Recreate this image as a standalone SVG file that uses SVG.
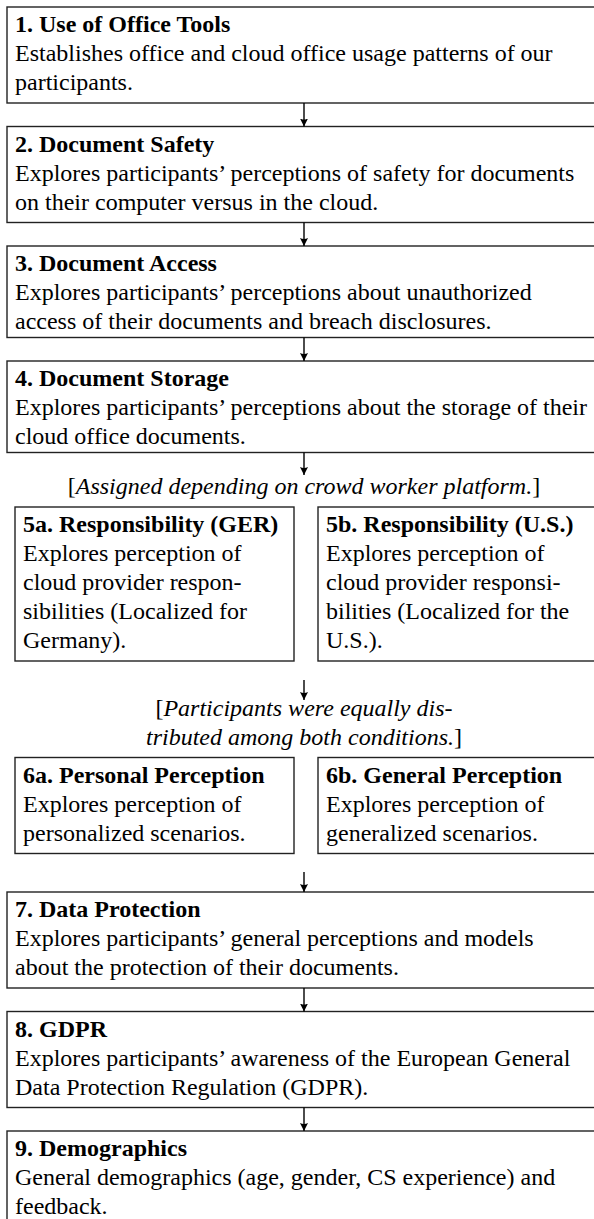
<svg xmlns="http://www.w3.org/2000/svg" width="594" height="1219" viewBox="0 0 594 1219">
<defs>
<marker id="ah" markerUnits="userSpaceOnUse" markerWidth="10" markerHeight="10" refX="8" refY="4" orient="auto">
<path d="M0,0 L8,4 L0,8 Q2,4 0,0 z" fill="#000"/>
</marker>
<style>
.box{fill:#fff;stroke:#222;stroke-width:1.4}
.t{font-family:"Liberation Serif","Times New Roman",serif;font-size:24px;fill:#000}
.b{font-weight:bold}
.i{font-style:italic}
#connectors line{stroke:#000;stroke-width:1.4;marker-end:url(#ah)}
</style>
</defs>
<rect width="594" height="1219" fill="#fff"/>

<g id="n1">
<rect class="box" x="7" y="7" width="594" height="96"/>
<text class="t b" x="15" y="32">1. Use of Office Tools</text>
<text class="t" x="15" y="61">Establishes office and cloud office usage patterns of our</text>
<text class="t" x="15" y="90">participants.</text>
</g>

<g id="n2">
<rect class="box" x="7" y="126.5" width="594" height="96"/>
<text class="t b" x="15" y="151.5">2. Document Safety</text>
<text class="t" x="15" y="180.5">Explores participants’ perceptions of safety for documents</text>
<text class="t" x="15" y="209.5">on their computer versus in the cloud.</text>
</g>

<g id="n3">
<rect class="box" x="7" y="246" width="594" height="91.5"/>
<text class="t b" x="15" y="271">3. Document Access</text>
<text class="t" x="15" y="300">Explores participants’ perceptions about unauthorized</text>
<text class="t" x="15" y="329">access of their documents and breach disclosures.</text>
</g>

<g id="n4">
<rect class="box" x="7" y="361" width="594" height="91.5"/>
<text class="t b" x="15" y="386">4. Document Storage</text>
<text class="t" x="15" y="415">Explores participants’ perceptions about the storage of their</text>
<text class="t" x="15" y="444">cloud office documents.</text>
</g>

<g id="label1">
<text class="t" x="304" y="494" text-anchor="middle">[<tspan class="i">Assigned depending on crowd worker platform.</tspan>]</text>
</g>

<g id="n5a">
<rect class="box" x="15" y="507" width="279" height="154"/>
<text class="t b" x="23" y="532">5a. Responsibility (GER)</text>
<text class="t" x="23" y="561">Explores perception of</text>
<text class="t" x="23" y="590">cloud provider respon-</text>
<text class="t" x="23" y="619">sibilities (Localized for</text>
<text class="t" x="23" y="648">Germany).</text>
</g>

<g id="n5b">
<rect class="box" x="318" y="507" width="279" height="154"/>
<text class="t b" x="326" y="532">5b. Responsibility (U.S.)</text>
<text class="t" x="326" y="561">Explores perception of</text>
<text class="t" x="326" y="590">cloud provider responsi-</text>
<text class="t" x="326" y="619">bilities (Localized for the</text>
<text class="t" x="326" y="648">U.S.).</text>
</g>

<g id="label2">
<text class="t" x="304" y="716" text-anchor="middle">[<tspan class="i">Participants were equally dis-</tspan></text>
<text class="t" x="304" y="745" text-anchor="middle"><tspan class="i">tributed among both conditions.</tspan>]</text>
</g>

<g id="n6a">
<rect class="box" x="15" y="757.5" width="279" height="96"/>
<text class="t b" x="23" y="782.5">6a. Personal Perception</text>
<text class="t" x="23" y="811.5">Explores perception of</text>
<text class="t" x="23" y="840.5">personalized scenarios.</text>
</g>

<g id="n6b">
<rect class="box" x="318" y="757.5" width="279" height="96"/>
<text class="t b" x="326" y="782.5">6b. General Perception</text>
<text class="t" x="326" y="811.5">Explores perception of</text>
<text class="t" x="326" y="840.5">generalized scenarios.</text>
</g>

<g id="n7">
<rect class="box" x="7" y="892" width="594" height="96"/>
<text class="t b" x="15" y="917">7. Data Protection</text>
<text class="t" x="15" y="946">Explores participants’ general perceptions and models</text>
<text class="t" x="15" y="975">about the protection of their documents.</text>
</g>

<g id="n8">
<rect class="box" x="7" y="1011.5" width="594" height="96"/>
<text class="t b" x="15" y="1036.5">8. GDPR</text>
<text class="t" x="15" y="1065.5">Explores participants’ awareness of the European General</text>
<text class="t" x="15" y="1094.5">Data Protection Regulation (GDPR).</text>
</g>

<g id="n9">
<rect class="box" x="7" y="1131" width="594" height="96"/>
<text class="t b" x="15" y="1156">9. Demographics</text>
<text class="t" x="15" y="1185">General demographics (age, gender, CS experience) and</text>
<text class="t" x="15" y="1214">feedback.</text>
</g>

<g id="connectors">
<line x1="304" y1="103" x2="304" y2="126.5"/>
<line x1="304" y1="222.5" x2="304" y2="246"/>
<line x1="304" y1="337.5" x2="304" y2="361"/>
<line x1="304" y1="452.5" x2="304" y2="475"/>
<line x1="304" y1="680" x2="304" y2="700"/>
<line x1="304" y1="872" x2="304" y2="892"/>
<line x1="304" y1="988" x2="304" y2="1011.5"/>
<line x1="304" y1="1107.5" x2="304" y2="1131"/>
</g>
</svg>
